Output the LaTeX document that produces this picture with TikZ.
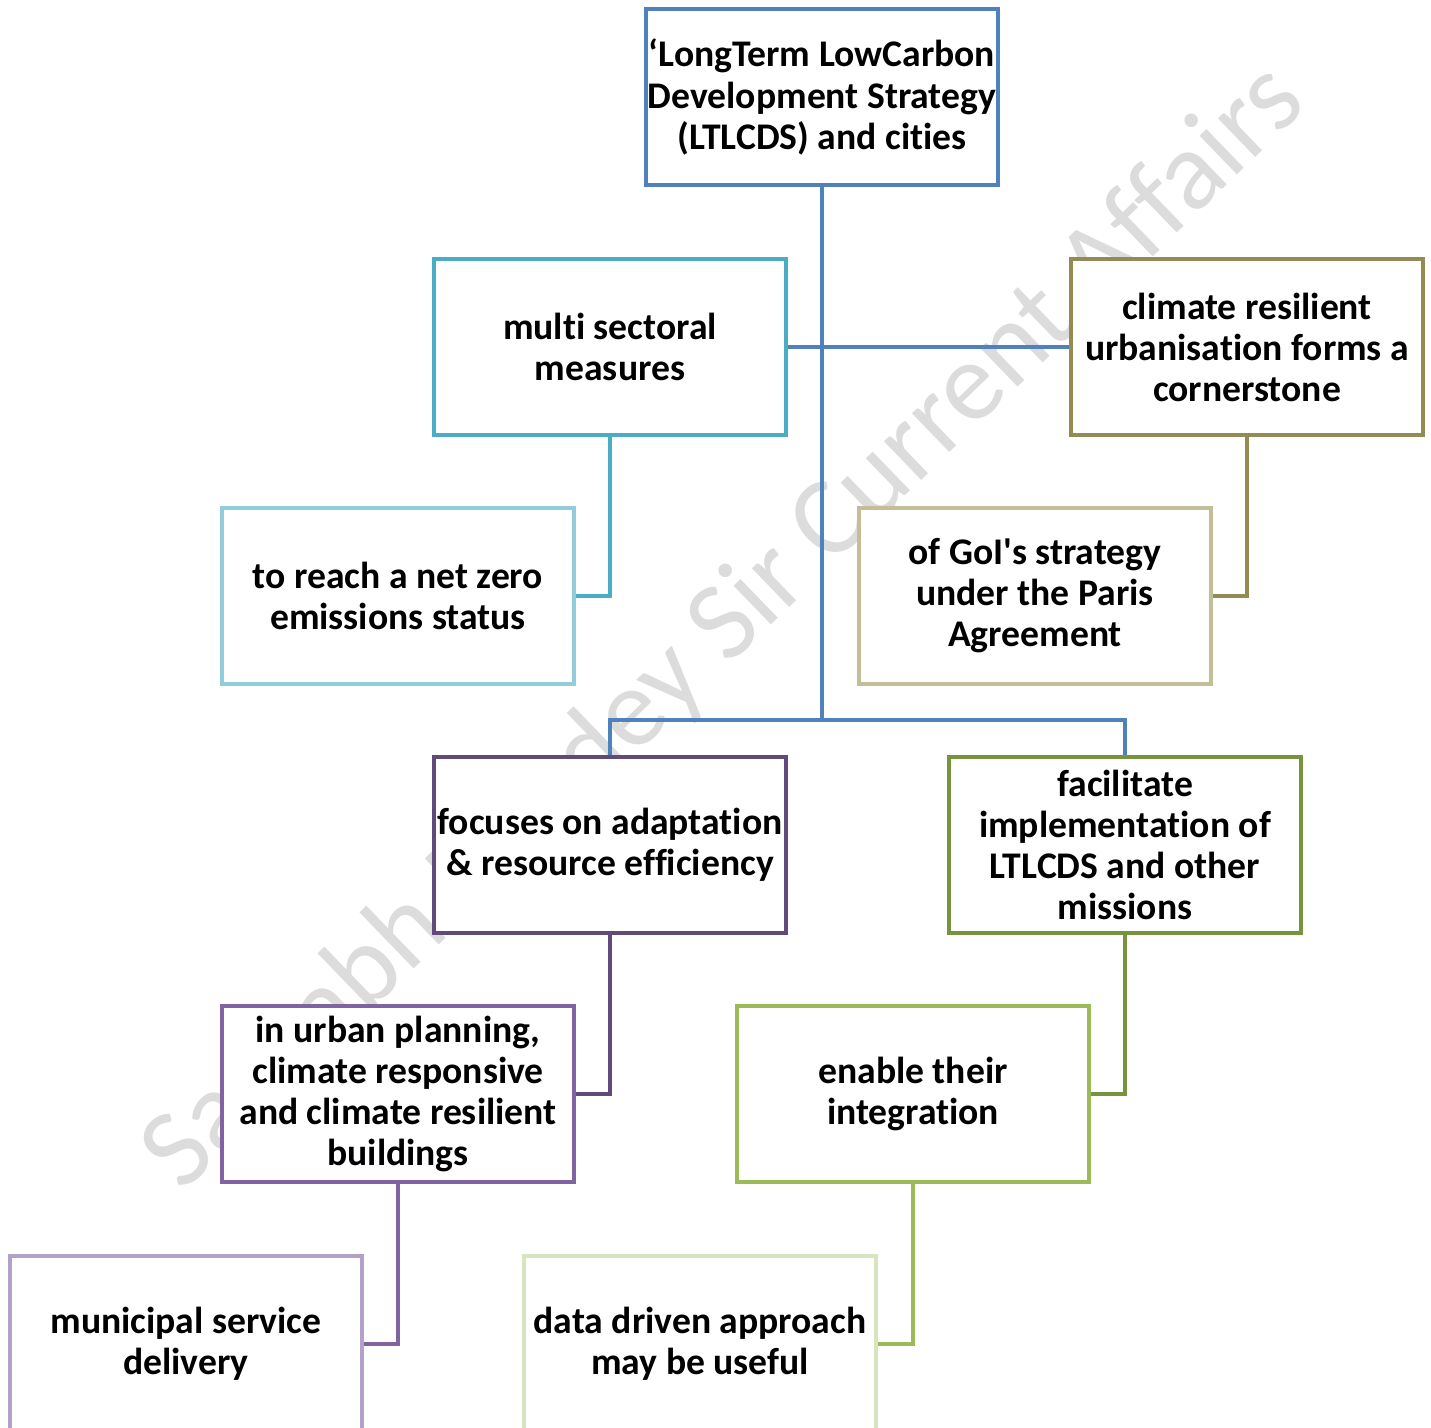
\documentclass[tikz,border=0pt]{standalone}
\usepackage{fontspec}
\setmainfont{Carlito}[RawFeature={-liga;-clig;-calt;-dlig}]
\definecolor{cTop}{HTML}{4F81BD}
\definecolor{cMulti}{HTML}{4BACC6}
\definecolor{cReach}{HTML}{92CDDC}
\definecolor{cClim}{HTML}{948A54}
\definecolor{cGoi}{HTML}{C4BD97}
\definecolor{cFocus}{HTML}{604A7B}
\definecolor{cUrban}{HTML}{8064A2}
\definecolor{cMuni}{HTML}{B3A2C7}
\definecolor{cFacil}{HTML}{77933C}
\definecolor{cEnable}{HTML}{9BBB59}
\definecolor{cData}{HTML}{D7E4BD}
\definecolor{cMark}{HTML}{DCDCDC}
\begin{document}
\begin{tikzpicture}[x=0.01cm,y=-0.01cm,
  box/.style={draw=#1,fill=white,line width=1.15pt,minimum width=3.52cm,minimum height=1.76cm,
    align=center,inner sep=0pt,font=\bfseries\fontsize{10.7}{11.67}\selectfont},
  link/.style={draw=#1,line width=1.15pt}]
  \useasboundingbox (0,0) rectangle (1431,1428);
  % watermark behind everything
  \node[text=cMark,rotate=44,font=\fontsize{32}{36}\selectfont] (mark) at (725,628) {Saurabh Pandey Sir Current Affairs};
  % boxes
  \node[box=cTop] (top) at (822,97) {‘LongTerm LowCarbon\\Development Strategy\\(LTLCDS) and cities};
  \node[box=cMulti] (multi) at (610,347) {multi sectoral\\measures};
  \node[box=cClim] (clim) at (1247,347) {climate resilient\\urbanisation forms a\\cornerstone};
  \node[box=cReach] (reach) at (398,596) {to reach a net zero\\emissions status};
  \node[box=cGoi] (goi) at (1035,596) {of GoI\textquotesingle s strategy\\under the Paris\\Agreement};
  \node[box=cFocus] (focus) at (610,845) {focuses on adaptation\\\& resource efficiency};
  \node[box=cFacil] (facil) at (1125,845) {facilitate\\implementation of\\LTLCDS and other\\missions};
  \node[box=cUrban] (urban) at (398,1094) {in urban planning,\\climate responsive\\and climate resilient\\buildings};
  \node[box=cEnable] (enable) at (913,1094) {enable their\\integration};
  \node[box=cMuni] (muni) at (186,1344) {municipal service\\delivery};
  \node[box=cData] (data) at (700,1344) {data driven approach\\may be useful};
  % connectors
  \coordinate (hub) at (822,720);
  \draw[link=cTop] (top.south) -- (hub);
  \draw[link=cTop] (multi.east) -- (clim.west);
  \draw[link=cTop] (focus.north) |- (hub) -| (facil.north);
  \draw[link=cMulti] (multi.south) |- (reach.east);
  \draw[link=cClim] (clim.south) |- (goi.east);
  \draw[link=cFocus] (focus.south) |- (urban.east);
  \draw[link=cFacil] (facil.south) |- (enable.east);
  \draw[link=cUrban] (urban.south) |- (muni.east);
  \draw[link=cEnable] (enable.south) |- (data.east);
\end{tikzpicture}
\end{document}
